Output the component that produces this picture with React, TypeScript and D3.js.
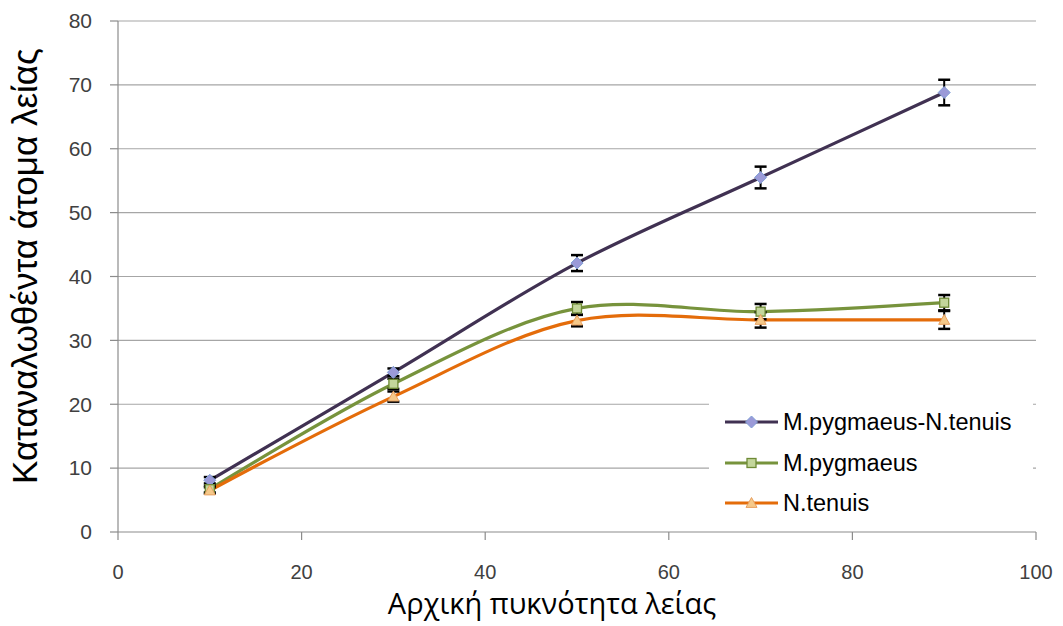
import * as d3 from 'd3';

const densities = [10, 30, 50, 70, 90];

const bothValues = [8.1, 25.0, 42.1, 55.5, 68.8];
const bothErrors = [0.5, 0.6, 1.25, 1.7, 2.0];
const pygmaeusValues = [6.7, 23.2, 35.0, 34.5, 35.9];
const pygmaeusErrors = [0.5, 0.8, 1.0, 1.2, 1.2];
const tenuisValues = [6.5, 21.2, 33.1, 33.2, 33.2];
const tenuisErrors = [0.5, 0.8, 0.9, 1.2, 1.4];

const xTicks = [0, 20, 40, 60, 80, 100];
const yTicks = [0, 10, 20, 30, 40, 50, 60, 70, 80];

const seriesNames = ['M.pygmaeus-N.tenuis', 'M.pygmaeus', 'N.tenuis'];

const series = [
  { name: seriesNames[0], values: bothValues, errors: bothErrors, line: '#403152', fill: '#9b9ad8', stroke: '#7f9fd6', shape: 'diamond' },
  { name: seriesNames[1], values: pygmaeusValues, errors: pygmaeusErrors, line: '#77933c', fill: '#c3d69b', stroke: '#6e8a36', shape: 'square' },
  { name: seriesNames[2], values: tenuisValues, errors: tenuisErrors, line: '#e46c0a', fill: '#f5c98a', stroke: '#e8a060', shape: 'triangle' },
];

const W = 1063;
const H = 626;
const left = 118;
const right = 1036;
const top = 21;
const bottom = 532;

function Marker({ shape, x, y, fill, stroke }: { shape: string; x: number; y: number; fill: string; stroke: string }) {
  if (shape === 'diamond') {
    const s = 6;
    return <path d={`M${x},${y - s}L${x + s},${y}L${x},${y + s}L${x - s},${y}Z`} fill={fill} stroke={stroke} strokeWidth={1} />;
  }
  if (shape === 'square') {
    const s = 4.5;
    return <rect x={x - s} y={y - s} width={s * 2} height={s * 2} fill={fill} stroke={stroke} strokeWidth={1.3} />;
  }
  const s = 5.5;
  return <path d={`M${x},${y - s}L${x + s},${y + s * 0.8}L${x - s},${y + s * 0.8}Z`} fill={fill} stroke={stroke} strokeWidth={1} />;
}

export default function App() {
  const x = d3.scaleLinear().domain([0, 100]).range([left, right]);
  const y = d3.scaleLinear().domain([0, 80]).range([bottom, top]);

  const line = d3
    .line<number>()
    .x((_, i) => x(densities[i]))
    .y((d) => y(d))
    .curve(d3.curveCatmullRom.alpha(0.5));

  const legendX = 709;
  const legendY = 399;
  const legendRows = [422, 463, 503];

  return (
    <svg width={W} height={H} style={{ position: 'absolute', left: 0, top: 0, background: '#fff' }}>
      {/* grid */}
      {yTicks.slice(1).map((t) => (
        <line key={t} x1={left} x2={right} y1={y(t)} y2={y(t)} stroke="#a6a6a6" strokeWidth={1.2} />
      ))}
      {/* axes */}
      <line x1={left} x2={left} y1={top} y2={bottom} stroke="#8c8c8c" strokeWidth={1.2} />
      <line x1={left} x2={right} y1={bottom} y2={bottom} stroke="#8c8c8c" strokeWidth={1.2} />
      {yTicks.map((t) => (
        <g key={t}>
          <line x1={left - 8} x2={left} y1={y(t)} y2={y(t)} stroke="#8c8c8c" strokeWidth={1.2} />
          <text x={92} y={y(t)} dy="0.35em" textAnchor="end" fontFamily="Liberation Sans, Arial, sans-serif" fontSize={21} fill="#404040">
            {t}
          </text>
        </g>
      ))}
      {xTicks.map((t) => (
        <g key={t}>
          <line x1={x(t)} x2={x(t)} y1={bottom} y2={bottom + 8} stroke="#8c8c8c" strokeWidth={1.2} />
          <text x={x(t)} y={572} dy="0.35em" textAnchor="middle" fontFamily="Liberation Sans, Arial, sans-serif" fontSize={20} fill="#404040">
            {t}
          </text>
        </g>
      ))}
      {/* titles */}
      <text x={552} y={604} dy="0.35em" textAnchor="middle" fontFamily="Open Sans, sans-serif" fontSize={29} fill="#000">
        Αρχική πυκνότητα λείας
      </text>
      <text
        transform={`translate(25,266) rotate(-90)`}
        dy="0.35em"
        textAnchor="middle"
        fontFamily="Liberation Sans, Arial, sans-serif"
        fontSize={35}
        fill="#000"
      >
        Καταναλωθέντα άτομα λείας
      </text>
      {/* lines */}
      {series.map((s) => (
        <path key={s.name} d={line(s.values) || ''} fill="none" stroke={s.line} strokeWidth={3.2} />
      ))}
      {/* error bars */}
      {series.map((s) =>
        s.values.map((v, i) => {
          const cx = x(densities[i]);
          const y1 = y(v + s.errors[i]);
          const y2 = y(v - s.errors[i]);
          return (
            <g key={s.name + i} stroke="#000" strokeWidth={2}>
              <line x1={cx} x2={cx} y1={y1} y2={y2} />
              <line x1={cx - 6} x2={cx + 6} y1={y1} y2={y1} strokeWidth={2.5} />
              <line x1={cx - 6} x2={cx + 6} y1={y2} y2={y2} strokeWidth={2.5} />
            </g>
          );
        })
      )}
      {/* markers */}
      {series.map((s) =>
        s.values.map((v, i) => (
          <Marker key={s.name + 'm' + i} shape={s.shape} x={x(densities[i])} y={y(v)} fill={s.fill} stroke={s.stroke} />
        ))
      )}
      {/* legend */}
      <rect x={legendX} y={legendY} width={324} height={128} fill="#fff" />
      {series.map((s, i) => (
        <g key={s.name + 'leg'}>
          <line x1={725} x2={778} y1={legendRows[i]} y2={legendRows[i]} stroke={s.line} strokeWidth={3.2} />
          <Marker shape={s.shape} x={751.5} y={legendRows[i]} fill={s.fill} stroke={s.stroke} />
          <text x={783} y={legendRows[i]} dy="0.35em" fontFamily="Liberation Sans, Arial, sans-serif" fontSize={23.5} fill="#000">
            {s.name}
          </text>
        </g>
      ))}
    </svg>
  );
}
